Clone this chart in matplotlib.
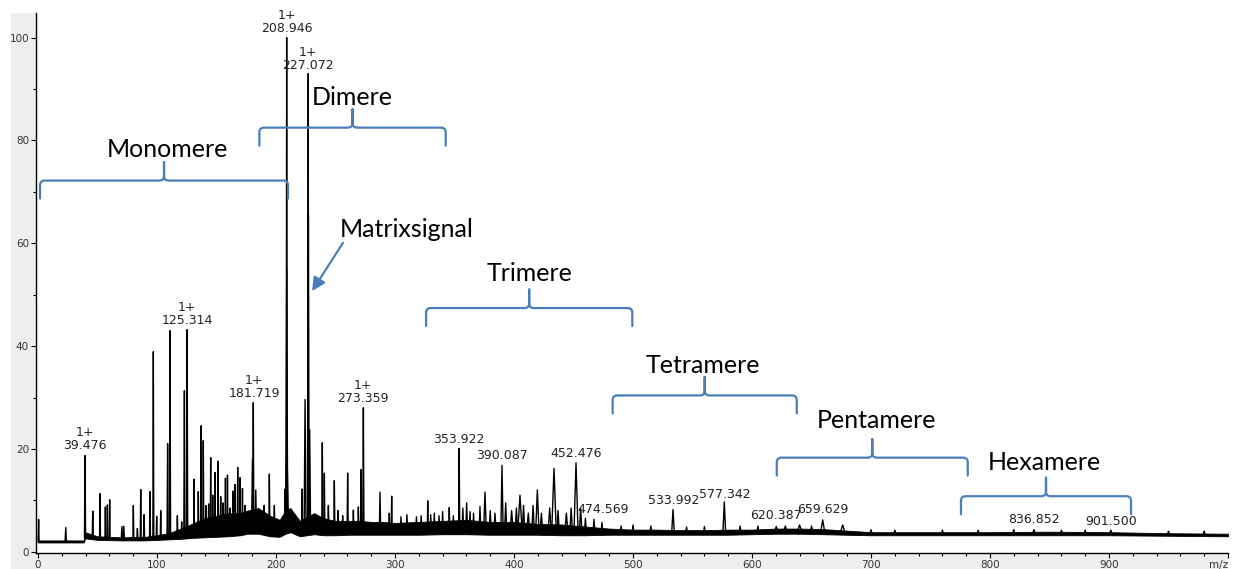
import numpy as np
import matplotlib
matplotlib.use('Agg')
import matplotlib.pyplot as plt
from matplotlib.path import Path
from matplotlib.patches import PathPatch, Rectangle
from matplotlib.collections import LineCollection
from matplotlib.ticker import MultipleLocator

# baseline noise band: m/z, lower edge, upper edge
base_mz = [0, 38.5, 39.5, 50, 70, 90, 100, 110, 120, 130, 140, 150, 160, 170, 176,
           185, 195, 203, 208, 212, 220, 232, 240, 250, 260, 270, 280, 290, 300, 320, 340,
           360, 380, 400, 420, 440, 460, 480, 500, 520, 540, 560, 580, 600, 620, 640,
           660, 680, 700, 750, 800, 850, 900, 950, 1000]
base_lo = [1.8, 1.8, 2.6, 2.3, 2.2, 2.2, 2.3, 2.4, 2.5, 2.7, 2.8, 2.9, 3.0, 3.2, 3.5,
           3.5, 3.0, 2.9, 3.5, 3.8, 3.0, 3.4, 3.2, 3.2, 3.3, 3.3, 3.3, 3.3, 3.3, 3.3, 3.4,
           3.4, 3.3, 3.3, 3.3, 3.2, 3.2, 3.3, 3.3, 3.3, 3.3, 3.3, 3.3, 3.4, 3.5, 3.5,
           3.4, 3.3, 3.2, 3.2, 3.2, 3.2, 3.2, 3.1, 3.0]
base_hi = [2.2, 2.2, 3.8, 3.0, 2.8, 2.9, 3.2, 3.6, 4.5, 5.5, 6.5, 7.0, 7.5, 7.5, 8.0,
           8.5, 7.0, 6.2, 8.0, 8.5, 6.0, 7.5, 6.5, 6.0, 6.0, 6.0, 5.8, 5.8, 5.6, 5.8, 6.0,
           6.2, 5.8, 5.8, 5.4, 5.3, 4.9, 4.5, 4.3, 4.3, 4.2, 4.2, 4.3, 4.3, 4.5, 4.5,
           4.4, 4.1, 3.8, 3.8, 3.8, 3.9, 3.8, 3.6, 3.5]

# peaks: position, height, half width at the foot
peak_mz = [0.5, 23.3, 39.5, 46.0, 52.1, 56.6, 58.3, 60.2, 70.5, 72.1, 80.1, 83.5, 86.3,
           89.1, 94.1, 96.9, 99.7, 103.1, 108.9, 110.9, 117.1, 120.7, 123.0, 125.3,
           131.1, 134.7, 137.0, 138.9, 141.0, 143.4, 145.1, 146.8, 148.7, 151.3, 153.5,
           155.5, 157.5, 159.2, 161.5, 163.9, 165.6, 167.8, 169.8, 171.8, 174.0, 180.2,
           180.9, 183.0, 190.0, 194.4, 198.6, 207.5, 208.95, 209.0, 209.1, 221.9, 224.4,
           227.07, 226.9, 227.2, 228.3, 238.9, 240.6, 244.0, 249.0, 252.0, 256.0, 260.2,
           265.0, 269.2, 271.5, 273.4, 287.4, 295.2, 297.2, 305.0, 310.0, 318.0, 322.0,
           327.5, 330.0, 333.0, 337.0, 340.0, 345.6, 349.0, 353.9, 357.0, 360.2, 363.0,
           366.0, 371.4, 375.6, 380.0, 384.0, 389.9, 393.0, 398.0, 402.0, 405.0, 408.0,
           412.0, 416.0, 419.6, 423.0, 430.0, 433.6, 437.0, 444.0, 448.0, 452.1, 456.0,
           460.0, 467.2, 473.9, 490.0, 500.0, 515.0, 533.6, 545.0, 560.0, 576.7, 590.0,
           605.0, 620.4, 628.0, 640.0, 650.0, 659.4, 676.2, 700.0, 720.0, 760.0, 790.0,
           820.0, 836.9, 860.0, 880.0, 901.5, 950.0, 980.0]
peak_int = [6.3, 4.7, 18.7, 7.9, 11.3, 8.7, 9.1, 10.1, 4.9, 5.0, 9.0, 4.5, 12.1,
            7.2, 11.7, 38.9, 6.9, 8.0, 21.0, 43.0, 7.0, 5.8, 31.3, 43.2,
            14.1, 11.7, 24.5, 21.6, 9.0, 9.3, 18.3, 11.0, 15.4, 17.6, 10.7,
            9.5, 14.3, 14.9, 8.5, 11.8, 13.1, 16.4, 14.4, 12.3, 9.0, 18.0,
            29.0, 12.0, 9.0, 15.1, 9.0, 12.2, 100.0, 55.0, 21.0, 12.2, 29.6,
            93.0, 65.6, 65.6, 23.7, 21.2, 15.3, 9.0, 13.8, 8.0, 7.0, 15.3,
            8.1, 8.7, 16.0, 28.0, 11.6, 7.5, 10.8, 6.8, 7.2, 6.8, 7.0,
            9.9, 7.2, 7.5, 7.0, 7.8, 8.6, 7.0, 20.1, 8.5, 9.5, 7.8,
            7.5, 8.8, 11.6, 8.0, 7.5, 16.8, 9.5, 8.0, 8.5, 11.0, 9.0,
            7.5, 9.0, 12.0, 7.5, 8.5, 16.2, 8.0, 7.5, 8.5, 17.3, 8.5,
            6.5, 6.3, 5.7, 5.0, 5.2, 5.0, 8.2, 4.8, 4.9, 9.7, 5.0,
            5.0, 4.9, 5.0, 5.2, 5.0, 6.2, 5.2, 4.3, 4.2, 4.2, 4.2,
            4.3, 4.3, 4.2, 4.2, 4.2, 4.0, 4.0]
peak_hw = [0.4, 0.6, 0.5, 0.5, 0.4, 0.4, 0.4, 0.4, 0.6, 0.6, 0.4, 0.5, 0.4,
           0.5, 0.4, 0.4, 0.4, 0.4, 0.5, 0.5, 0.4, 0.4, 0.5, 0.5,
           0.4, 0.4, 0.4, 0.4, 0.4, 0.4, 0.4, 0.4, 0.4, 0.4, 0.4,
           0.4, 0.4, 0.4, 0.4, 0.4, 0.4, 0.4, 0.4, 0.4, 0.4, 0.8,
           0.5, 0.6, 0.5, 0.5, 0.5, 0.5, 0.4, 0.8, 1.5, 0.5, 0.8,
           0.3, 0.5, 0.5, 0.8, 0.5, 0.5, 0.5, 0.5, 0.5, 0.5, 0.5,
           0.5, 0.5, 0.5, 0.5, 0.6, 0.5, 0.5, 0.6, 0.8, 0.8, 0.6,
           0.4, 0.6, 0.6, 0.6, 0.6, 0.5, 0.6, 0.5, 0.8, 0.8, 0.8,
           0.8, 0.8, 1.2, 1.0, 1.0, 1.0, 1.0, 1.5, 1.2, 2.0, 1.2,
           1.5, 1.2, 1.5, 1.2, 1.5, 2.0, 1.2, 1.5, 1.2, 1.8, 1.2,
           1.0, 1.0, 0.8, 1.0, 1.0, 1.0, 1.2, 1.0, 1.0, 1.2, 1.0,
           1.0, 2.0, 2.0, 2.5, 1.5, 2.0, 2.5, 1.2, 1.2, 1.2, 1.2,
           1.2, 1.5, 1.2, 1.2, 1.5, 1.2, 1.2]

# peak labels
label_mz = [39.476, 125.314, 181.719, 208.946, 227.072, 273.359, 353.922, 390.087,
            452.476, 474.569, 533.992, 577.342, 620.387, 659.629, 836.852, 901.500]
label_y = [19.4, 43.7, 29.5, 100.5, 93.3, 28.5, 20.6, 17.5, 17.8, 6.9, 8.7, 9.8,
           5.8, 6.9, 5.0, 4.6]
label_charge = ['1+', '1+', '1+', '1+', '1+', '1+', '', '', '', '', '', '', '', '', '', '']

# oligomer ranges
group_names = ['Monomere', 'Dimere', 'Trimere', 'Tetramere', 'Pentamere', 'Hexamere']
brace_lo = [1.7, 186.0, 326.1, 482.9, 620.8, 775.6]
brace_hi = [210.1, 342.6, 499.4, 637.6, 781.3, 918.5]
brace_y = [72.2, 82.5, 47.4, 30.4, 18.3, 10.8]
group_x = [108.4, 263.9, 413.4, 558.8, 705.0, 845.4]
group_y = [76.8, 86.9, 52.6, 34.8, 24.0, 15.9]

blue = '#4a7ebb'

fig = plt.figure(figsize=(12.33, 5.69), dpi=100)
fig.add_artist(Rectangle((11 / 1233, 0), 1217 / 1233, 556 / 569, transform=fig.transFigure,
                         facecolor='#eeeeee', edgecolor='none', zorder=-5))
ax = fig.add_axes([36 / 1233, 16 / 569, 1192 / 1233, 540 / 569])
ax.set_xlim(-1.7, 1000)
ax.set_ylim(-0.25, 104.8)

# spectrum
ax.fill_between(base_mz, base_lo, base_hi, facecolor='black', edgecolor='black', lw=0.6)
foot = np.interp(peak_mz, base_mz, base_lo)
segs = [[(m - w, f), (m, h), (m + w, f)] for m, h, w, f in zip(peak_mz, peak_int, peak_hw, foot)]
ax.add_collection(LineCollection(segs, colors='black', linewidths=1.0))

for m, y, c in zip(label_mz, label_y, label_charge):
    txt = f'{c}\n{m:.3f}' if c else f'{m:.3f}'
    ax.text(m, y, txt, ha='center', va='bottom', fontsize=9, color='#222222',
            linespacing=1.0, multialignment='center')

# braces
def brace(x0, x1, y, drop=3.5, tip=3.6, rx=4.0, ry=0.9):
    xm = (x0 + x1) / 2
    verts = [(x0, y - drop), (x0, y - ry), (x0, y), (x0 + rx, y),
             (xm - rx, y), (xm, y), (xm, y + ry), (xm, y + tip),
             (xm, y + ry), (xm, y), (xm + rx, y),
             (x1 - rx, y), (x1, y), (x1, y - ry), (x1, y - drop)]
    codes = [Path.MOVETO, Path.LINETO, Path.CURVE3, Path.CURVE3,
             Path.LINETO, Path.CURVE3, Path.CURVE3, Path.LINETO,
             Path.LINETO, Path.CURVE3, Path.CURVE3,
             Path.LINETO, Path.CURVE3, Path.CURVE3, Path.LINETO]
    return PathPatch(Path(verts, codes), facecolor='none', edgecolor=blue, lw=1.6,
                     capstyle='round', joinstyle='round', zorder=4)

for x0, x1, y in zip(brace_lo, brace_hi, brace_y):
    ax.add_patch(brace(x0, x1, y))
for name, x, y in zip(group_names, group_x, group_y):
    ax.text(x, y, name, ha='center', va='baseline', fontsize=18, family='Lato', color='black')

ax.text(310.1, 61.3, 'Matrixsignal', ha='center', va='baseline', fontsize=18, family='Lato')
ax.annotate('', xy=(230.3, 50.7), xytext=(256.3, 60.1),
            arrowprops=dict(arrowstyle='-|>', color=blue, lw=1.6, mutation_scale=20,
                            shrinkA=0, shrinkB=0))

# axes cosmetics
ax.spines['top'].set_visible(False)
ax.spines['right'].set_visible(False)
for s in ['left', 'bottom']:
    ax.spines[s].set_linewidth(1.0)
ax.set_xticks(np.arange(0, 1001, 100))
ax.set_xticklabels([str(v) for v in range(0, 1000, 100)] + ['m/z'])
ax.get_xticklabels()[-1].set_ha('right')
ax.xaxis.set_minor_locator(MultipleLocator(20))
ax.set_yticks(np.arange(0, 101, 20))
ax.yaxis.set_minor_locator(MultipleLocator(10))
ax.tick_params(which='major', direction='out', length=3.5, width=0.8, labelsize=7.5,
               pad=1.5, labelcolor='#333333')
ax.tick_params(which='minor', direction='out', length=2.5, width=0.8)

fig.savefig('out.png', dpi=100, facecolor='white')
